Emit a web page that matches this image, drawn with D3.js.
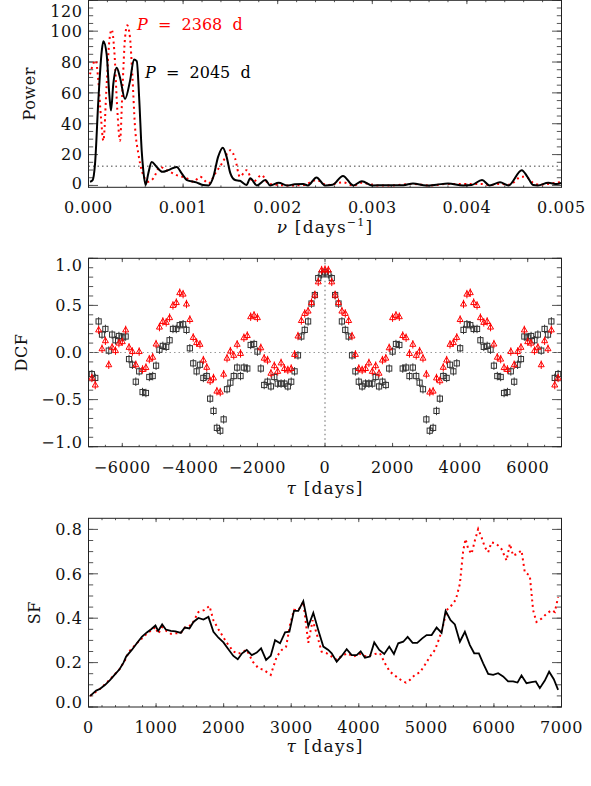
<!DOCTYPE html>
<html><head><meta charset="utf-8">
<script src="https://cdn.jsdelivr.net/npm/d3@7"></script>
<style>
html,body{margin:0;padding:0;background:#fff;}
svg{display:block;}
text{font-family:"DejaVu Serif","Liberation Serif",serif;fill:#111;}
</style>
</head><body>
<svg id="chart" width="591" height="786"></svg>
<script>
// ---------------- DATA ----------------
// Panel 1: periodogram (frequency in days^-1, power)
const nuBlack = [0.000016,0.000044,0.000069,0.000104,0.00014,0.000157,0.000192,0.00022,0.000238,0.000262,0.000298,0.000333,0.000386,0.000439,0.000481,0.00051,0.000537,0.000562,0.000579,0.000604,0.000632,0.000668,0.000721,0.00078,0.000844,0.000932,0.000985,0.00104,0.00114,0.00121,0.00127,0.00132,0.00137,0.00142,0.00146,0.0015,0.00155,0.0016,0.00167,0.00171,0.00178,0.00187,0.00192,0.00201,0.0021,0.00218,0.00227,0.00232,0.00241,0.0025,0.00258,0.00269,0.0028,0.00289,0.003,0.00313,0.0032,0.00333,0.00343,0.00357,0.00368,0.0038,0.00396,0.00405,0.00416,0.00424,0.00435,0.00444,0.00458,0.00464,0.0047,0.00475,0.00486,0.00495,0.005];
const powerBlack = [2.4,3.5,14,55,87,93.5,85,59,48.5,65.6,76.3,70,56,67.8,81.7,80.6,55,22.8,9.9,0.3,7.8,15.2,12,8.8,9.9,12,7.8,3.5,2,0.3,0,5.6,18.5,24.5,18.5,7.8,3.5,3,0.3,4.6,0,3.5,0,1.7,0,0.7,0.9,0,5.2,0,0.5,6.2,0,2.8,0,0.2,0.2,0.2,1.3,0,0.5,1.3,0,0.3,3.5,0,2,0,9.9,5.6,0.3,0,1.7,0.9,1.7];
const nuRed = [0.000016,0.000076,0.000104,0.000132,0.000157,0.000192,0.00022,0.000245,0.000273,0.000305,0.000333,0.000361,0.000386,0.00041,0.000439,0.000463,0.000492,0.000527,0.000562,0.000632,0.000685,0.000756,0.000827,0.000932,0.00104,0.00111,0.00118,0.00127,0.00134,0.00141,0.0015,0.00155,0.0016,0.00167,0.00174,0.00183,0.0019,0.00201,0.00211,0.00227,0.00241,0.00252,0.00269,0.0028,0.00289,0.00305,0.00319,0.00343,0.0036,0.0038,0.00396,0.00416,0.00424,0.00435,0.00445,0.00458,0.00464,0.0047,0.00477,0.00486,0.005];
const powerRed = [72,81,67.8,44,29,65.6,93.5,101,87,48.5,29,65.6,95.6,103.8,95.6,72,37.7,20.6,9.9,2.4,4.6,12,9.9,6.7,4.6,2.4,5.6,1.3,7.8,14.2,22.8,17.4,5.6,9.9,2.4,6.7,1.3,0.3,0,0.3,3.5,0.3,2,0,1.7,0,0,1,0,1,1,1,0.3,1,0.5,5.7,5,1.7,0.5,1,2.3];
const powerThreshold = 12.5;
const periodLabels = ["2368", "2045"];

// Panel 2: discrete correlation function
const dcfLags = [-6900,-6800,-6700,-6600,-6500,-6400,-6300,-6200,-6100,-6000,-5900,-5800,-5700,-5600,-5500,-5400,-5300,-5200,-5100,-5000,-4900,-4800,-4700,-4600,-4500,-4400,-4300,-4200,-4100,-4000,-3900,-3800,-3700,-3600,-3500,-3400,-3300,-3200,-3100,-3000,-2900,-2800,-2700,-2600,-2500,-2400,-2300,-2200,-2100,-2000,-1900,-1800,-1700,-1600,-1500,-1400,-1300,-1200,-1100,-1000,-900,-800,-700,-600,-500,-400,-300,-200,-100,0,100,200,300,400,500,600,700,800,900,1000,1100,1200,1300,1400,1500,1600,1700,1800,1900,2000,2100,2200,2300,2400,2500,2600,2700,2800,2900,3000,3100,3200,3300,3400,3500,3600,3700,3800,3900,4000,4100,4200,4300,4400,4500,4600,4700,4800,4900,5000,5100,5200,5300,5400,5500,5600,5700,5800,5900,6000,6100,6200,6300,6400,6500,6600,6700,6800,6900];
const dcfBlack = [-0.23,-0.27,0.33,0.19,0.25,0.02,0.19,0.13,0.175,0.16,0.17,-0.07,-0.13,-0.31,-0.2,-0.42,-0.43,-0.26,-0.25,-0.14,0.03,0.07,0.06,0.13,0.25,0.25,0.29,0.30,0.24,0.045,-0.115,-0.2,-0.13,-0.27,-0.25,-0.49,-0.62,-0.80,-0.83,-0.71,-0.39,-0.32,-0.25,-0.16,-0.25,-0.16,-0.17,0.08,0.09,0.01,-0.17,-0.345,-0.31,-0.36,-0.26,-0.33,-0.33,-0.33,-0.36,-0.31,-0.2,-0.03,0.17,0.24,0.33,0.52,0.61,0.79,0.83,
  0.85,
  0.83,0.79,0.61,0.52,0.33,0.24,0.17,-0.03,-0.2,-0.31,-0.36,-0.33,-0.33,-0.33,-0.26,-0.36,-0.31,-0.345,-0.17,0.01,0.09,0.08,-0.17,-0.16,-0.25,-0.16,-0.25,-0.32,-0.39,-0.71,-0.83,-0.80,-0.62,-0.49,-0.25,-0.27,-0.13,-0.2,-0.115,0.045,0.24,0.30,0.29,0.25,0.25,0.13,0.06,0.07,0.03,-0.14,-0.25,-0.26,-0.43,-0.42,-0.2,-0.31,-0.13,-0.07,0.17,0.16,0.175,0.13,0.19,0.02,0.25,0.19,0.33,-0.27,-0.23];
const dcfRed = [-0.27,-0.345,0.24,0.04,0.125,-0.13,0.055,0.02,0.1,0.115,0.24,0.055,0.01,-0.13,0.01,-0.18,-0.16,-0.07,-0.05,0.09,0.27,0.33,0.32,0.37,0.5,0.53,0.635,0.62,0.515,0.35,0.16,0.105,0.087,-0.08,-0.157,-0.3,-0.27,-0.41,-0.42,-0.23,-0.06,0.015,-0.03,0.087,-0.01,0.157,0.18,0.38,0.395,0.37,0.05,-0.06,-0.08,-0.22,-0.14,-0.2,-0.11,-0.17,-0.185,-0.17,-0.02,0.175,0.34,0.415,0.44,0.53,0.61,0.75,0.875,
  0.88,
  0.875,0.75,0.61,0.53,0.44,0.415,0.34,0.175,-0.02,-0.17,-0.185,-0.17,-0.11,-0.2,-0.14,-0.22,-0.08,-0.06,0.05,0.37,0.395,0.38,0.18,0.157,-0.01,0.087,-0.03,0.015,-0.06,-0.23,-0.42,-0.41,-0.27,-0.3,-0.157,-0.08,0.087,0.105,0.16,0.35,0.515,0.62,0.635,0.53,0.5,0.37,0.32,0.33,0.27,0.09,-0.05,-0.07,-0.16,-0.18,0.01,-0.13,0.01,0.055,0.24,0.115,0.1,0.02,0.055,-0.13,0.125,0.04,0.24,-0.345,-0.27];
const dcfError = 0.045;

// Panel 3: structure function
const sfLagBlack = [25,114,173,247,321,395,459,518,557,641,715,789,863,927,991,1031,1090,1144,1218,1287,1366,1425,1494,1553,1627,1701,1775,1849,1923,1997,2070,2144,2209,2273,2342,2416,2490,2554,2628,2697,2761,2835,2909,2973,3041,3105,3179,3253,3327,3401,3475,3549,3599,3673,3747,3821,3895,3969,4028,4091,4165,4229,4303,4377,4451,4520,4584,4658,4723,4797,4865,4939,5004,5078,5152,5225,5285,5358,5422,5496,5570,5644,5708,5777,5841,5915,5989,6062,6136,6210,6284,6349,6408,6482,6556,6620,6679,6753,6817,6886,6950];
const sfBlack = [0.05,0.074,0.082,0.1,0.122,0.148,0.17,0.2,0.227,0.257,0.287,0.316,0.336,0.35,0.367,0.343,0.372,0.349,0.343,0.341,0.334,0.358,0.354,0.383,0.401,0.394,0.406,0.339,0.312,0.291,0.26,0.23,0.215,0.242,0.257,0.234,0.245,0.264,0.212,0.231,0.301,0.287,0.336,0.339,0.433,0.433,0.477,0.364,0.424,0.346,0.272,0.257,0.242,0.204,0.23,0.26,0.234,0.234,0.251,0.222,0.227,0.291,0.257,0.239,0.272,0.239,0.287,0.294,0.316,0.289,0.289,0.309,0.324,0.324,0.358,0.334,0.433,0.391,0.372,0.294,0.339,0.279,0.242,0.242,0.197,0.149,0.145,0.152,0.138,0.115,0.115,0.11,0.142,0.107,0.112,0.115,0.085,0.119,0.159,0.125,0.077];
const sfLagRed = [25,173,321,459,540,600,715,863,991,1031,1090,1144,1218,1366,1435,1529,1627,1710,1790,1849,1923,2045,2144,2219,2342,2431,2514,2588,2697,2786,2860,2924,2982,3041,3105,3179,3253,3317,3377,3450,3524,3599,3673,3747,3831,3920,4018,4116,4239,4313,4387,4461,4550,4634,4698,4757,4831,4905,4979,5053,5127,5191,5250,5300,5373,5437,5496,5545,5580,5620,5669,5718,5767,5816,5866,5915,5964,6037,6111,6187,6235,6284,6344,6408,6457,6531,6580,6630,6704,6778,6852,6901,6950];
const sfRed = [0.05,0.082,0.125,0.17,0.21,0.25,0.287,0.33,0.36,0.33,0.36,0.345,0.33,0.334,0.36,0.37,0.428,0.436,0.455,0.39,0.35,0.29,0.25,0.24,0.257,0.204,0.175,0.168,0.145,0.227,0.257,0.272,0.369,0.438,0.436,0.473,0.289,0.391,0.33,0.249,0.242,0.227,0.212,0.23,0.242,0.227,0.239,0.227,0.239,0.242,0.197,0.159,0.138,0.119,0.11,0.122,0.145,0.156,0.19,0.227,0.257,0.309,0.369,0.436,0.458,0.484,0.555,0.704,0.757,0.712,0.69,0.75,0.802,0.765,0.72,0.697,0.742,0.735,0.712,0.66,0.735,0.682,0.69,0.705,0.607,0.592,0.436,0.383,0.398,0.42,0.436,0.428,0.495];

// Tick values and labels
const nuTicks = [0, 0.001, 0.002, 0.003, 0.004, 0.005];
const nuTickLabels = ["0.000","0.001","0.002","0.003","0.004","0.005"];
const powerTicks = [0,20,40,60,80,100,120];
const powerTickLabels = ["0","20","40","60","80","100","120"];
const lagTicks = [-6000,-4000,-2000,0,2000,4000,6000];
const lagTickLabels = ["\u22126000","\u22124000","\u22122000","0","2000","4000","6000"];
const dcfTicks = [-1,-0.5,0,0.5,1];
const dcfTickLabels = ["\u22121.0","\u22120.5","0.0","0.5","1.0"];
const sfLagTicks = [0,1000,2000,3000,4000,5000,6000,7000];
const sfLagTickLabels = ["0","1000","2000","3000","4000","5000","6000","7000"];
const sfTicks = [0,0.2,0.4,0.6,0.8];
const sfTickLabels = ["0.0","0.2","0.4","0.6","0.8"];

// ---------------- DRAWING ----------------
const svg = d3.select("#chart");
const L = 88.5, R = 561.5;
const RED = "#ff0000";

function panel(id, x, y, o) {
  const g = svg.append("g");
  const [x0, x1] = x.range();
  const [yb, yt] = y.range();
  g.append("clipPath").attr("id", id).append("rect")
    .attr("x", x0).attr("y", yt).attr("width", x1 - x0).attr("height", yb - yt);
  const tg = g.append("g").attr("stroke", "#555").attr("stroke-width", 1).attr("fill", "none");
  const xMaj = 3.8, xMin = 1.9, yMaj = 9.5, yMin = 4.7;
  o.xMinor.forEach(v => {
    const px = x(v);
    if (px < x0 || px > x1) return;
    tg.append("line").attr("x1", px).attr("x2", px).attr("y1", yb).attr("y2", yb - xMin);
    tg.append("line").attr("x1", px).attr("x2", px).attr("y1", yt).attr("y2", yt + xMin);
  });
  o.xTicks.forEach(v => {
    const px = x(v);
    tg.append("line").attr("x1", px).attr("x2", px).attr("y1", yb).attr("y2", yb - xMaj);
    tg.append("line").attr("x1", px).attr("x2", px).attr("y1", yt).attr("y2", yt + xMaj);
  });
  o.yMinor.forEach(v => {
    const py = y(v);
    if (py > yb || py < yt) return;
    tg.append("line").attr("x1", x0).attr("x2", x0 + yMin).attr("y1", py).attr("y2", py);
    tg.append("line").attr("x1", x1).attr("x2", x1 - yMin).attr("y1", py).attr("y2", py);
  });
  o.yTicks.forEach(v => {
    const py = y(v);
    tg.append("line").attr("x1", x0).attr("x2", x0 + yMaj).attr("y1", py).attr("y2", py);
    tg.append("line").attr("x1", x1).attr("x2", x1 - yMaj).attr("y1", py).attr("y2", py);
  });
  g.append("rect").attr("x", x0).attr("y", yt).attr("width", x1 - x0).attr("height", yb - yt)
    .attr("fill", "none").attr("stroke", "#222").attr("stroke-width", 1);
  o.xTicks.forEach((v, i) => {
    g.append("text").attr("x", x(v)).attr("y", o.xLabelY).attr("text-anchor", "middle")
      .attr("font-size", 16).attr("letter-spacing", 0.6).text(o.xLabels[i]);
  });
  o.yTicks.forEach((v, i) => {
    let cy = Math.min(Math.max(y(v), yt + o.topPad), yb - 4.5);
    g.append("text").attr("x", 82.5).attr("y", cy + 5.8).attr("text-anchor", "end")
      .attr("font-size", 16).attr("letter-spacing", 0.6).text(o.yLabels[i]);
  });
  g.append("text").attr("transform", `translate(${o.yTitleX},${(yb + yt) / 2}) rotate(-90)`)
    .attr("text-anchor", "middle").attr("dy", "0.35em").attr("font-size", 16)
    .attr("letter-spacing", 0.6).text(o.yTitle);
  return g;
}

function xTitle(g, sym, y, sup) {
  const t = g.append("text").attr("x", 325).attr("y", y).attr("text-anchor", "middle")
    .attr("font-size", 17).attr("letter-spacing", 1.2);
  t.append("tspan").attr("font-style", "italic").text(sym);
  t.append("tspan").text(" [days");
  if (sup) {
    t.append("tspan").attr("font-size", 11).attr("dy", -7).text(sup);
    t.append("tspan").attr("dy", 7).text("]");
  } else {
    t.append("tspan").text("]");
  }
}

// ---- Panel 1 ----
const x1s = d3.scaleLinear().domain([0, 0.005]).range([L, R]);
const y1s = d3.scaleLinear().domain([-1.2, 120]).range([187.3, 0.3]);
const g1 = panel("clipTop", x1s, y1s, {
  xTicks: nuTicks, xLabels: nuTickLabels, xMinor: d3.range(0, 0.00501, 0.0002),
  yTicks: powerTicks, yLabels: powerTickLabels, yMinor: d3.range(0, 121, 5),
  xLabelY: 213.3, yTitle: "Power", yTitleX: 29, topPad: 10.5
});
xTitle(g1, "\u03bd", 233, "\u22121");
const c1 = g1.append("g").attr("clip-path", "url(#clipTop)");
c1.append("line").attr("x1", L).attr("x2", R).attr("y1", y1s(powerThreshold)).attr("y2", y1s(powerThreshold))
  .attr("stroke", "#444").attr("stroke-width", 1).attr("stroke-dasharray", "1.5 3");
const line1 = d3.line().x(d => x1s(d[0])).y(d => y1s(d[1])).curve(d3.curveMonotoneX);
c1.append("path").datum(d3.zip(nuRed, powerRed)).attr("d", line1)
  .attr("fill", "none").attr("stroke", RED).attr("stroke-width", 2).attr("stroke-dasharray", "2 3.5");
c1.append("path").datum(d3.zip(nuBlack, powerBlack)).attr("d", line1)
  .attr("fill", "none").attr("stroke", "#000").attr("stroke-width", 2);

function periodText(x, y, val, color) {
  const t = g1.append("text").attr("x", x).attr("y", y).attr("font-size", 16)
    .attr("fill", color).style("white-space", "pre").attr("xml:space", "preserve");
  t.append("tspan").attr("font-style", "italic").attr("fill", color).text("P");
  t.append("tspan").attr("fill", color).text("  =  " + val + "  d");
}
periodText(137, 30, periodLabels[0], RED);
periodText(145, 78, periodLabels[1], "#000");

// ---- Panel 2 ----
const x2s = d3.scaleLinear().domain([-7000, 7000]).range([L, R]);
const y2s = d3.scaleLinear().domain([-1, 1]).range([446.7, 258.3]);
const g2 = panel("clipMid", x2s, y2s, {
  xTicks: lagTicks, xLabels: lagTickLabels, xMinor: d3.range(-7000, 7001, 500),
  yTicks: dcfTicks, yLabels: dcfTickLabels, yMinor: d3.range(-10, 11).map(v => v / 10),
  xLabelY: 473.3, yTitle: "DCF", yTitleX: 21, topPad: 7
});
xTitle(g2, "\u03c4", 494, null);
const c2 = g2.append("g").attr("clip-path", "url(#clipMid)");
c2.append("line").attr("x1", L).attr("x2", R).attr("y1", y2s(0)).attr("y2", y2s(0))
  .attr("stroke", "#999").attr("stroke-width", 1.2).attr("stroke-dasharray", "1.5 3");
c2.append("line").attr("x1", x2s(0)).attr("x2", x2s(0)).attr("y1", 258.3).attr("y2", 446.7)
  .attr("stroke", "#999").attr("stroke-width", 1.5).attr("stroke-dasharray", "1.5 3");

const blackPts = d3.zip(dcfLags, dcfBlack);
const redPts = d3.zip(dcfLags, dcfRed);
const gb = c2.append("g").attr("stroke", "#333").attr("stroke-width", 1).attr("fill", "none");
blackPts.forEach(d => {
  const px = x2s(d[0]), py = y2s(d[1]);
  gb.append("line").attr("x1", px).attr("x2", px).attr("y1", y2s(d[1] - dcfError)).attr("y2", y2s(d[1] + dcfError));
  gb.append("rect").attr("x", px - 2.6).attr("y", py - 2.6).attr("width", 5.2).attr("height", 5.2);
});
const gr = c2.append("g").attr("stroke", RED).attr("stroke-width", 1).attr("fill", "none");
redPts.forEach(d => {
  const px = x2s(d[0]), py = y2s(d[1]);
  gr.append("line").attr("x1", px).attr("x2", px).attr("y1", y2s(d[1] - dcfError)).attr("y2", y2s(d[1] + dcfError));
  gr.append("path").attr("d", `M${px},${py - 3.2}L${px + 3},${py + 2}L${px - 3},${py + 2}Z`);
});

// ---- Panel 3 ----
const x3s = d3.scaleLinear().domain([0, 7000]).range([L, R]);
const y3s = d3.scaleLinear().domain([0, 0.85]).range([707, 518.3]);
const g3 = panel("clipBot", x3s, y3s, {
  xTicks: sfLagTicks, xLabels: sfLagTickLabels, xMinor: d3.range(0, 7001, 200),
  yTicks: sfTicks, yLabels: sfTickLabels, yMinor: d3.range(0, 17).map(v => v * 0.05),
  xLabelY: 732.7, yTitle: "SF", yTitleX: 34, topPad: 7
});
xTitle(g3, "\u03c4", 752, null);
const c3 = g3.append("g").attr("clip-path", "url(#clipBot)");
const line3 = d3.line().x(d => x3s(d[0])).y(d => y3s(d[1]));
c3.append("path").datum(d3.zip(sfLagRed, sfRed)).attr("d", line3)
  .attr("fill", "none").attr("stroke", RED).attr("stroke-width", 2).attr("stroke-dasharray", "2 3.5");
c3.append("path").datum(d3.zip(sfLagBlack, sfBlack)).attr("d", line3)
  .attr("fill", "none").attr("stroke", "#000").attr("stroke-width", 1.8);
</script>
</body></html>
